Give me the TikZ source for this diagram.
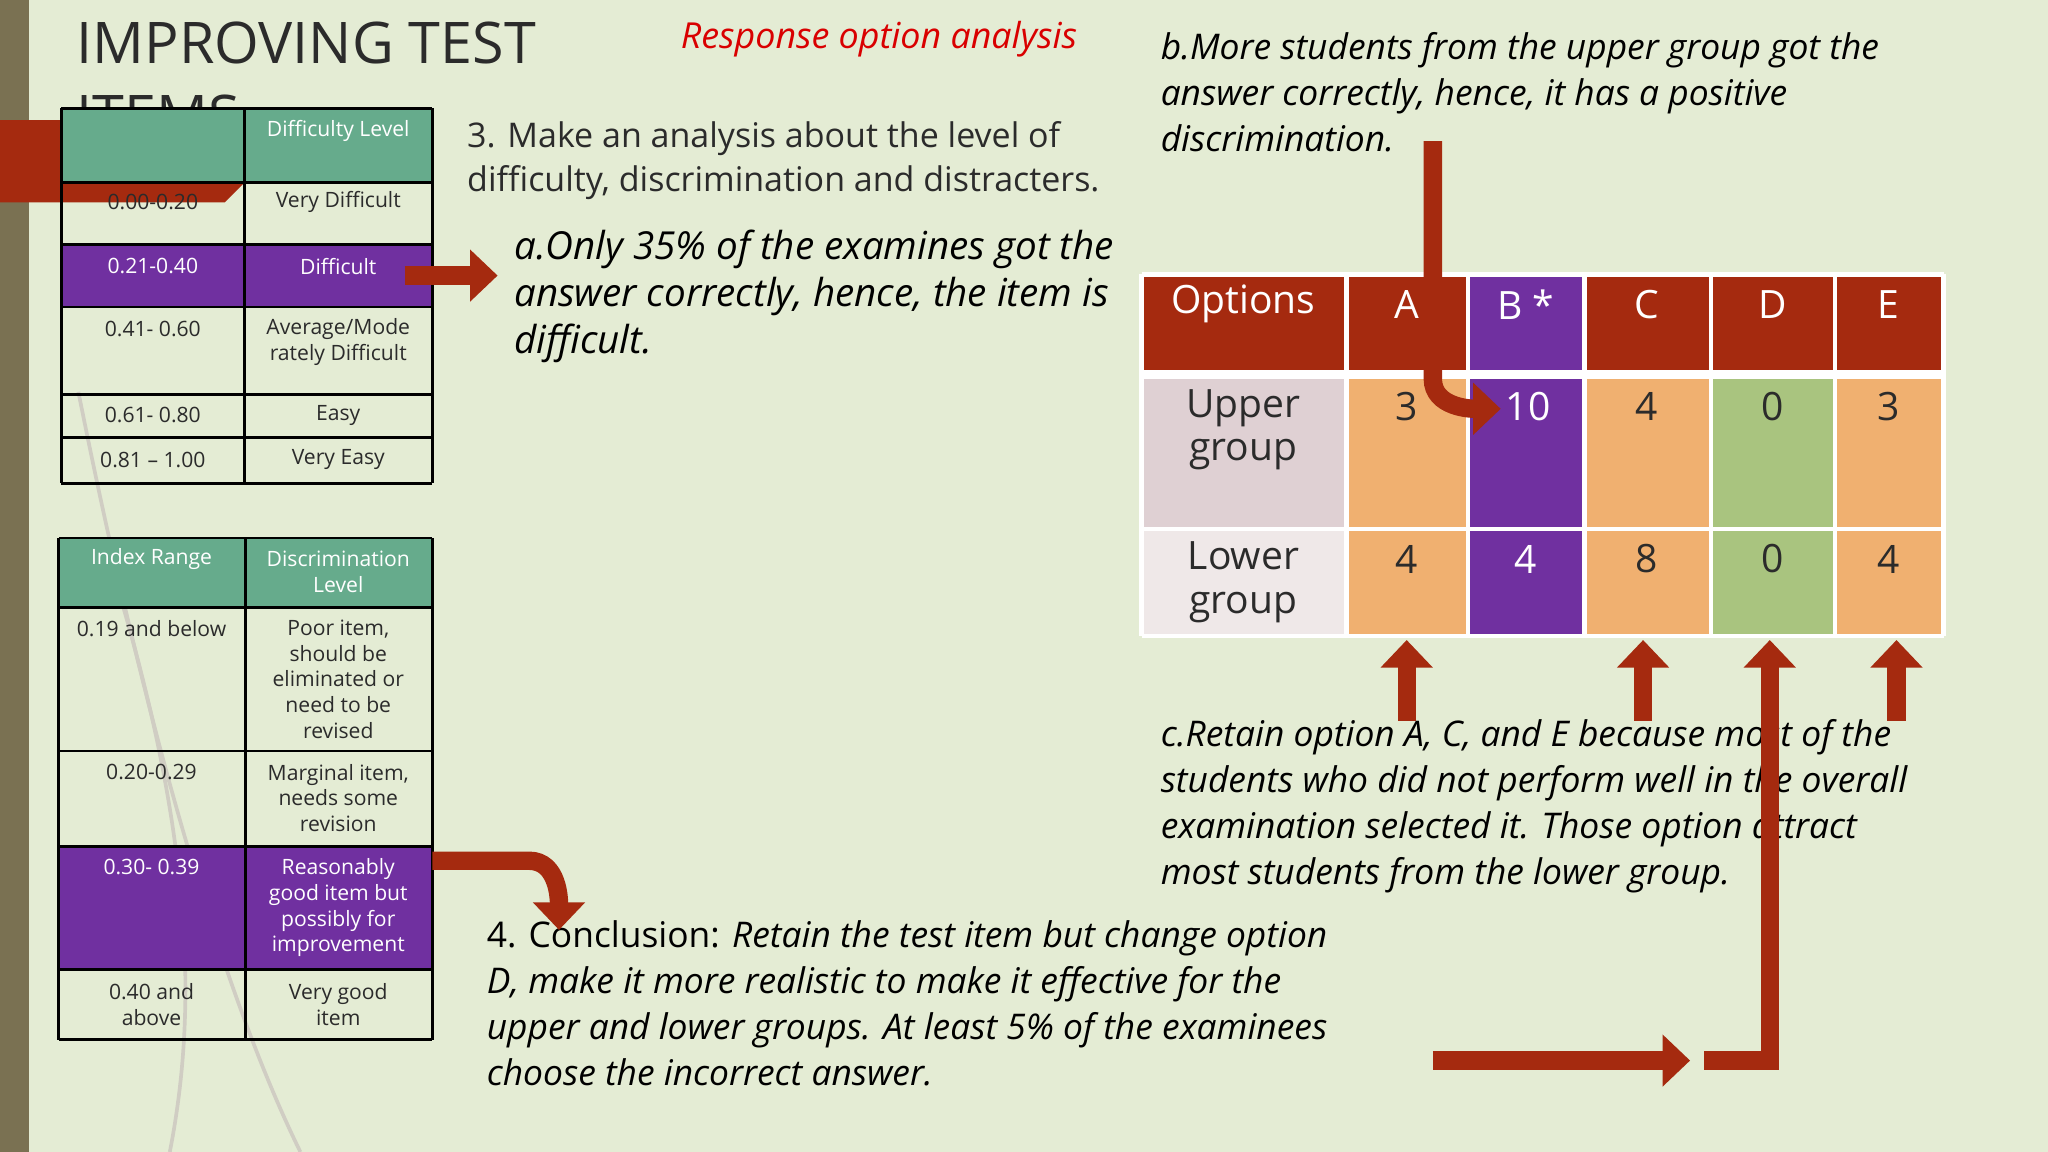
\documentclass[tikz,border=0pt]{standalone}
\usepackage{fontspec}
\setmainfont{Open Sans}
\usetikzlibrary{arrows.meta}
\definecolor{bg}{HTML}{E4ECD4}
\definecolor{strip}{HTML}{7A7152}
\definecolor{rd}{HTML}{A52A0F}
\definecolor{teal}{HTML}{66AB8C}
\definecolor{purp}{HTML}{7030A0}
\definecolor{org}{HTML}{F0B070}
\definecolor{grn}{HTML}{A9C47F}
\definecolor{pk}{HTML}{DFD0D3}
\definecolor{pk2}{HTML}{EFE8E8}
\definecolor{ttl}{HTML}{2B2B2B}
\tikzset{
 cell/.style={draw=black,line width=0.6pt},
 tt/.style={font=\fontsize{4.6}{5.6}\selectfont,align=center,text=ttl},
 big/.style={font=\fontsize{8.5}{9.5}\selectfont,text=ttl},
 mcell/.style={draw=white,line width=1pt},
 para/.style={font=\fontsize{7.7}{10}\selectfont\itshape,align=left,anchor=north west,inner sep=0pt,text=black},
 barrow/.style={draw=rd,line width=4pt,-{Triangle[width=11pt,length=6pt]}},
}
\begin{document}
\begin{tikzpicture}[x=0.01cm,y=-0.01cm]
\useasboundingbox (0,0) rectangle (1568,882);
\fill[bg] (0,0) rectangle (1568,882);
\fill[strip] (0,0) rectangle (22,882);
\draw[strip!35,line width=0.8pt] (60,300) .. controls (120,600) and (180,780) .. (230,882);
\draw[strip!35,line width=0.8pt] (90,450) .. controls (150,650) and (150,780) .. (130,882);
% title
\node[anchor=north west,inner sep=0pt,font=\fontsize{12.5}{16}\selectfont,align=left,text=ttl] (title) at (58,16) {IMPROVING TEST\\ITEMS};
\node[font=\fontsize{7.8}{10}\selectfont\itshape,text=red!85!black] (resp) at (673,30) {Response option analysis};
% red shape
\fill[rd] (0,92) -- (47,92) -- (47,140) -- (187,140) -- (172,155) -- (0,155) -- cycle;
% table 1
\fill[teal] (47,83) rectangle (331,140);
\fill[purp] (47,187) rectangle (331,235);
\foreach \y in {83,140,187,235,302,335,370} \draw[cell] (47,\y) -- (331,\y);
\foreach \x in {47,187,331} \draw[cell] (\x,83) -- (\x,370);
\node[tt,text=white] (h1) at (259,100) {Difficulty Level};
\node[tt] (r11) at (117,155) {0.00-0.20};\node[tt] (r12) at (259,155) {Very Difficult};
\node[tt,text=white] (r21) at (117,204) {0.21-0.40};\node[tt,text=white] (r22) at (259,204) {Difficult};
\node[tt] (r31) at (117,252) {0.41- 0.60};\node[tt] (r32) at (259,262) {Average/Mode\\rately Difficult};
\node[tt] (r41) at (117,318) {0.61- 0.80};\node[tt] (r42) at (259,318) {Easy};
\node[tt] (r51) at (117,352) {0.81 – 1.00};\node[tt] (r52) at (259,352) {Very Easy};
% table 2
\fill[teal] (45,412) rectangle (331,465);
\fill[purp] (45,648) rectangle (331,742);
\foreach \y in {412,465,575,648,742,796} \draw[cell] (45,\y) -- (331,\y);
\foreach \x in {45,188,331} \draw[cell] (\x,412) -- (\x,796);
\node[tt,text=white] (g1) at (116,428) {Index Range};
\node[tt,text=white] (g2) at (259,438) {Discrimination\\Level};
\node[tt] (s11) at (116,481) {0.19 and below};
\node[tt] (s12) at (259,520) {Poor item,\\should be\\eliminated or\\need to be\\revised};
\node[tt] (s21) at (116,591) {0.20-0.29};
\node[tt] (s22) at (259,611) {Marginal item,\\needs some\\revision};
\node[tt,text=white] (s31) at (116,664) {0.30- 0.39};
\node[tt,text=white] (s32) at (259,695) {Reasonably\\good item but\\possibly for\\improvement};
\node[tt] (s41) at (116,769) {0.40 and\\above};
\node[tt] (s42) at (259,769) {Very good\\item};
% main table
\fill[rd] (874,210) rectangle (1488,287);
\fill[purp] (1124,210) rectangle (1213,487);
\fill[pk] (874,287) rectangle (1031,405);
\fill[pk2] (874,405) rectangle (1031,487);
\fill[org] (1031,287) rectangle (1124,487);
\fill[org] (1213,287) rectangle (1310,487);
\fill[grn] (1310,287) rectangle (1405,487);
\fill[org] (1405,287) rectangle (1488,487);
\foreach \y in {210,287,405,487} \draw[mcell] (874,\y) -- (1488,\y);
\draw[white,line width=2pt] (874,287) -- (1488,287);
\foreach \x in {874,1031,1124,1213,1310,1405,1488} \draw[mcell] (\x,210) -- (\x,487);
\node[big,text=white] (o0) at (952,233) {Options};
\node[big,text=white] (oA) at (1077,233) {A};
\node[big,text=white] (oB) at (1168,233) {B *};
\node[big,text=white] (oC) at (1261,233) {C};
\node[big,text=white] (oD) at (1357,233) {D};
\node[big,text=white] (oE) at (1446,233) {E};
\node[big,align=center] (u0) at (952,329) {Upper\\group};
\node[big] (uA) at (1077,311) {3};
\node[big,text=white] (uB) at (1170,311) {10};
\node[big] (uC) at (1261,311) {4};
\node[big] (uD) at (1357,311) {0};
\node[big] (uE) at (1446,311) {3};
\node[big,align=center] (l0) at (952,446) {Lower\\group};
\node[big] (lA) at (1077,428) {4};
\node[big,text=white] (lB) at (1168,428) {4};
\node[big] (lC) at (1261,428) {8};
\node[big] (lD) at (1357,428) {0};
\node[big] (lE) at (1446,428) {4};
% texts
\node[para,font=\fontsize{7.4}{9.6}\selectfont,text=ttl] (t3) at (357,92) {3. Make an analysis about the level of\\difficulty, discrimination and distracters.};
\node[para,font=\fontsize{8.4}{10.3}\selectfont\itshape] (ta) at (393,175) {a.Only 35\% of the examines got the\\answer correctly, hence, the item is\\difficult.};
\node[para] (tb) at (888,24) {b.More students from the upper group got the\\answer correctly, hence, it has a positive\\discrimination.};
\node[para] (tc) at (888,550) {c.Retain option A, C, and E because most of the\\students who did not perform well in the overall\\examination selected it. Those option attract\\most students from the lower group.};
\node[para] (t4) at (372,704) {{\upshape 4. Conclusion: }Retain the test item but change option\\D, make it more realistic to make it effective for the\\upper and lower groups. At least 5\% of the examinees\\choose the incorrect answer.};
% arrows
\coordinate (a1s) at (310,211); \coordinate (a1e) at (381,211);
\draw[barrow] (a1s) -- (a1e);
\coordinate (bs) at (1097,108); \coordinate (be) at (1149,313);
\draw[barrow] (bs) -- (1097,290) to[out=-90,in=180] (be);
\foreach \x/\n in {1077/A,1258/C,1452/E} {
 \coordinate (up\n s) at (\x,552); \coordinate (up\n e) at (\x,490);
 \draw[barrow] (up\n s) -- (up\n e);}
\coordinate (ds) at (1097,812); \coordinate (de) at (1294,812);
\draw[barrow] (ds) -- (de);
\coordinate (d2s) at (1305,812); \coordinate (d2e) at (1355,490);
\draw[barrow] (d2s) -- (1355,812) -- (d2e);
\coordinate (cs) at (331,659); \coordinate (ce) at (428,712);
\draw[barrow] (cs) -- (405,659) to[out=0,in=90] (ce);
\end{tikzpicture}
\end{document}
